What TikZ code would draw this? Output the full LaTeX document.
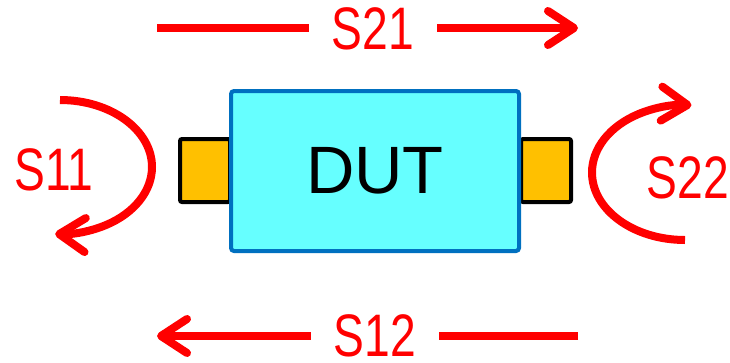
\documentclass[tikz,border=0pt]{standalone}
\usepackage{fontspec}
\setmainfont{Liberation Sans}
\newfontfamily\slimfont[FakeStretch=0.77]{Liberation Sans}
\usetikzlibrary{arrows.meta}
\definecolor{dutfill}{HTML}{66FFFF}
\definecolor{dutline}{HTML}{0070C0}
\definecolor{portfill}{HTML}{FFC000}
\begin{document}
\begin{tikzpicture}[
    x=1pt, y=1pt,
    dut/.style={rectangle, draw=dutline, fill=dutfill, line width=4pt, rounded corners=3pt, minimum width=288pt, minimum height=160pt, inner sep=0pt, font=\fontsize{67}{70}\selectfont},
    port/.style={rectangle, draw=black, fill=portfill, line width=4pt, rounded corners=2pt, minimum width=50pt, minimum height=63pt, inner sep=0pt},
    signal/.style={-{Straight Barb[length=26pt, width=34pt, round]}, line width=8pt, color=red},
    wire/.style={line width=8pt, color=red},
    label/.style={text=red, font=\slimfont\fontsize{60}{62}\selectfont, inner sep=0pt},
    onwire/.style={label, inner xsep=23pt}
]
    \useasboundingbox (0,0) rectangle (730,-362);
    % Ports and device
    \node[port] (p1) at (205,-170.5) {};
    \node[port] (p2) at (546,-170.5) {};
    \node[dut] (dut) at (375,-171) {DUT};

    % Transmission
    \node[onwire] (s21) at (373,-29) {S21};
    \coordinate (s21a) at (157,-28);
    \coordinate (s21b) at (578,-28);
    \draw[wire] (s21a) -- (s21.west |- s21a);
    \draw[signal] (s21.east |- s21b) -- (s21b);
    \node[onwire] (s12) at (375,-336) {S12};
    \coordinate (s12a) at (578,-336);
    \coordinate (s12b) at (157,-336);
    \draw[wire] (s12a) -- (s12.east |- s12a);
    \draw[signal] (s12.west |- s12b) -- (s12b);

    % Reflection
    \coordinate (s11a) at (60,-100);
    \draw[signal] (s11a) arc[start angle=90, end angle=-93, x radius=92, y radius=67];
    \node[label] (s11) at (54,-170) {S11};
    \coordinate (s22a) at (685,-240);
    \draw[signal] (s22a) arc[start angle=270, end angle=86, x radius=93, y radius=67.5];
    \node[label] (s22) at (688,-178) {S22};
\end{tikzpicture}
\end{document}
